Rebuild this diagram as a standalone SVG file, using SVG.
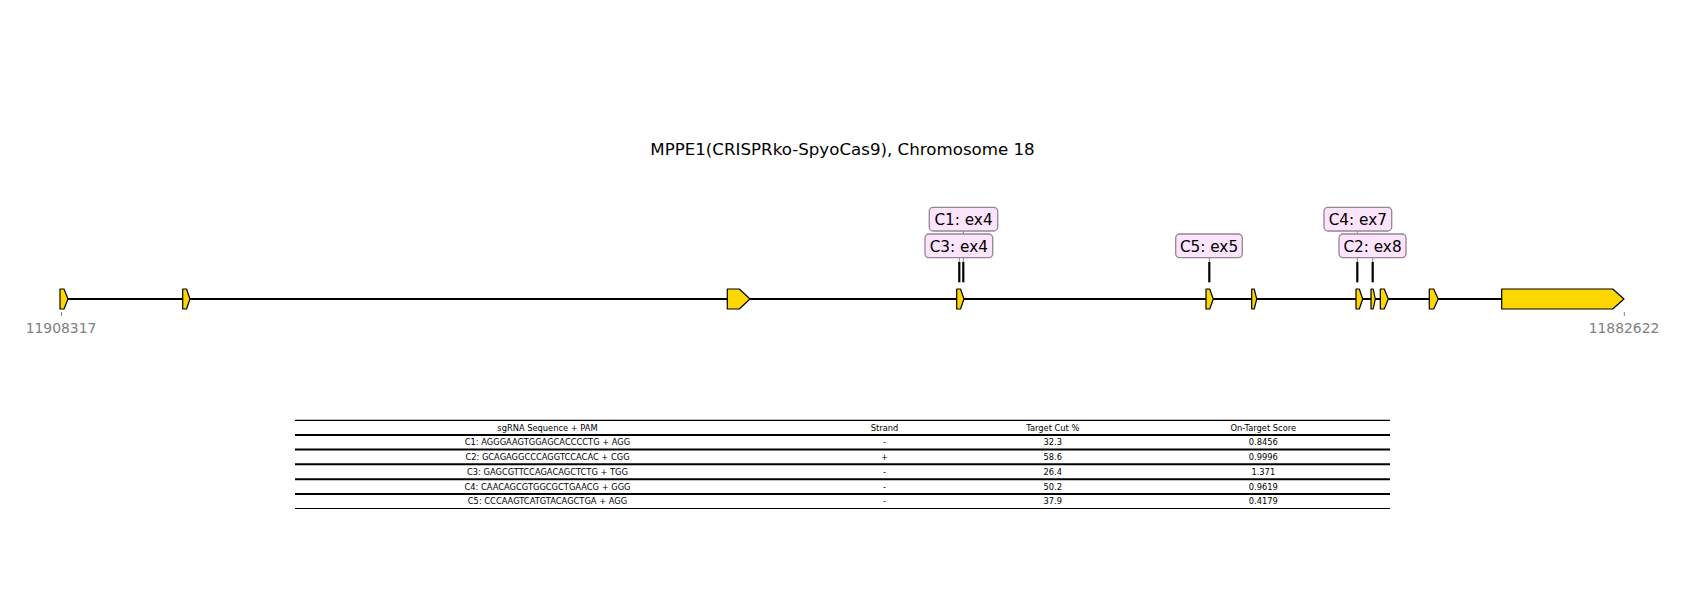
<svg xmlns="http://www.w3.org/2000/svg" width="1700" height="600" viewBox="0 0 1700 600">
  <style>
    text { font-family: "DejaVu Sans", "Liberation Sans", sans-serif; }
    .title { font-size: 16.67px; fill: #000; text-anchor: middle; }
    .coord { font-size: 13.9px; fill: #808080; text-anchor: middle; }
    .tick { stroke: #808080; stroke-width: 1; }
    .backbone { stroke: #000; stroke-width: 2; fill: none; }
    .exon { fill: #ffd700; stroke: #000; stroke-width: 1.2; stroke-linejoin: round; }
    .cut { stroke: #000; stroke-width: 2.2; }
    .tag rect { fill: #fde4fd; stroke: #958595; stroke-width: 1.3; }
    .tag text { font-size: 15.28px; fill: #000; text-anchor: middle; }
    .link { stroke: #a040a0; stroke-width: 0.8; }
    .rule { stroke: #000; stroke-width: 1.2; }
    .rule2 { stroke: #000; stroke-width: 2; }
    .cell { font-size: 8.3px; fill: #000; text-anchor: middle; }
  </style>

  <!-- title -->
  <text class="title" x="842.5" y="154.5">MPPE1(CRISPRko-SpyoCas9), Chromosome 18</text>

  <!-- chromosome backbone and coordinate ticks -->
  <g id="backbone">
    <line class="backbone" x1="60" y1="299" x2="1624" y2="299"/>
    <line class="tick" x1="61.5" y1="312" x2="61.5" y2="316"/>
    <text class="coord" x="61" y="333">11908317</text>
    <line class="tick" x1="1624.3" y1="312" x2="1624.3" y2="316"/>
    <text class="coord" x="1624" y="333">11882622</text>
  </g>

  <!-- exons, drawn as forward-pointing arrows -->
  <g id="exon1"><polygon class="exon" points="60,289 64,289 68,299 64,309 60,309"/></g>
  <g id="exon2"><polygon class="exon" points="182.7,289 186.5,289 190,299 186.5,309 182.7,309"/></g>
  <g id="exon3"><polygon class="exon" points="727.3,289 739.3,289 750,299 739.3,309 727.3,309"/></g>
  <g id="exon4"><polygon class="exon" points="956.7,289 960.5,289 964,299 960.5,309 956.7,309"/></g>
  <g id="exon5"><polygon class="exon" points="1206,289 1209.7,289 1213.3,299 1209.7,309 1206,309"/></g>
  <g id="exon6"><polygon class="exon" points="1251.7,289 1254.2,289 1256.7,299 1254.2,309 1251.7,309"/></g>
  <g id="exon7"><polygon class="exon" points="1356,289 1359.3,289 1362.7,299 1359.3,309 1356,309"/></g>
  <g id="exon8"><polygon class="exon" points="1371,289 1373.2,289 1375.3,299 1373.2,309 1371,309"/></g>
  <g id="exon9"><polygon class="exon" points="1380.3,289 1384.3,289 1388.3,299 1384.3,309 1380.3,309"/></g>
  <g id="exon10"><polygon class="exon" points="1429.3,289 1433.7,289 1438.2,299 1433.7,309 1429.3,309"/></g>
  <g id="exon11"><polygon class="exon" points="1501.7,289 1612.7,289 1624,299 1612.7,309 1501.7,309"/></g>

  <!-- leader lines from guide labels to cut sites -->
  <g id="connectors">
    <line class="link" x1="963.3" y1="231" x2="963.3" y2="262"/>
    <line class="link" x1="959.3" y1="257.7" x2="959.3" y2="262"/>
    <line class="link" x1="1209.3" y1="257.5" x2="1209.3" y2="262"/>
    <line class="link" x1="1357.3" y1="231" x2="1357.3" y2="262"/>
    <line class="link" x1="1372.7" y1="257.7" x2="1372.7" y2="262"/>
  </g>

  <!-- cut sites -->
  <g id="cuts">
    <line class="cut" x1="959.3" y1="262" x2="959.3" y2="282.3"/>
    <line class="cut" x1="963.3" y1="262" x2="963.3" y2="282.3"/>
    <line class="cut" x1="1209.3" y1="262" x2="1209.3" y2="282.3"/>
    <line class="cut" x1="1357.3" y1="262" x2="1357.3" y2="282.3"/>
    <line class="cut" x1="1372.7" y1="262" x2="1372.7" y2="282.3"/>
  </g>

  <!-- guide labels -->
  <g id="C1" class="tag">
    <rect x="929.3" y="207.3" width="68.4" height="23.7" rx="4"/>
    <text x="963.5" y="224.8">C1: ex4</text>
  </g>
  <g id="C4" class="tag">
    <rect x="1324" y="207.3" width="67.7" height="23.7" rx="4"/>
    <text x="1357.8" y="224.8">C4: ex7</text>
  </g>
  <g id="C3" class="tag">
    <rect x="925" y="234" width="67.7" height="23.7" rx="4"/>
    <text x="958.8" y="251.5">C3: ex4</text>
  </g>
  <g id="C5" class="tag">
    <rect x="1175.7" y="234" width="66.6" height="23.7" rx="4"/>
    <text x="1209" y="251.5">C5: ex5</text>
  </g>
  <g id="C2" class="tag">
    <rect x="1339" y="234" width="67" height="23.7" rx="4"/>
    <text x="1372.5" y="251.5">C2: ex8</text>
  </g>

  <!-- guide table -->
  <g id="table">
    <line class="rule" x1="295" y1="420.3" x2="1390" y2="420.3"/>
    <line class="rule2" x1="295" y1="435" x2="1390" y2="435"/>
    <line class="rule2" x1="295" y1="449.5" x2="1390" y2="449.5"/>
    <line class="rule2" x1="295" y1="464.3" x2="1390" y2="464.3"/>
    <line class="rule2" x1="295" y1="479.2" x2="1390" y2="479.2"/>
    <line class="rule2" x1="295" y1="494" x2="1390" y2="494"/>
    <line class="rule" x1="295" y1="508.5" x2="1390" y2="508.5"/>

    <text class="cell" x="547.5" y="430.5">sgRNA Sequence + PAM</text>
    <text class="cell" x="884.5" y="430.5">Strand</text>
    <text class="cell" x="1052.8" y="430.5">Target Cut %</text>
    <text class="cell" x="1263.3" y="430.5">On-Target Score</text>

    <text class="cell" x="547.5" y="445.2">C1: AGGGAAGTGGAGCACCCCTG + AGG</text>
    <text class="cell" x="884.5" y="445.2">-</text>
    <text class="cell" x="1052.8" y="445.2">32.3</text>
    <text class="cell" x="1263.3" y="445.2">0.8456</text>

    <text class="cell" x="547.5" y="459.9">C2: GCAGAGGCCCAGGTCCACAC + CGG</text>
    <text class="cell" x="884.5" y="459.9">+</text>
    <text class="cell" x="1052.8" y="459.9">58.6</text>
    <text class="cell" x="1263.3" y="459.9">0.9996</text>

    <text class="cell" x="547.5" y="474.7">C3: GAGCGTTCCAGACAGCTCTG + TGG</text>
    <text class="cell" x="884.5" y="474.7">-</text>
    <text class="cell" x="1052.8" y="474.7">26.4</text>
    <text class="cell" x="1263.3" y="474.7">1.371</text>

    <text class="cell" x="547.5" y="489.6">C4: CAACAGCGTGGCGCTGAACG + GGG</text>
    <text class="cell" x="884.5" y="489.6">-</text>
    <text class="cell" x="1052.8" y="489.6">50.2</text>
    <text class="cell" x="1263.3" y="489.6">0.9619</text>

    <text class="cell" x="547.5" y="504.3">C5: CCCAAGTCATGTACAGCTGA + AGG</text>
    <text class="cell" x="884.5" y="504.3">-</text>
    <text class="cell" x="1052.8" y="504.3">37.9</text>
    <text class="cell" x="1263.3" y="504.3">0.4179</text>
  </g>
</svg>
